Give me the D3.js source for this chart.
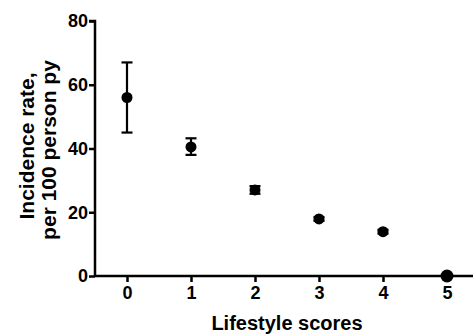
<!DOCTYPE html>
<html>
<head>
<meta charset="utf-8">
<script src="https://cdn.jsdelivr.net/npm/d3@7"></script>
<style>
  body { margin: 0; background: #fff; }
  text { font-family: Arial, "Liberation Sans", sans-serif; font-weight: bold; fill: #000; }
</style>
</head>
<body>
<div class="graphHolder"></div>
<script>
let scores = [0, 1, 2, 3, 4, 5],
  rates = [56, 40.5, 27, 17.9, 13.9, 0],
  lower = [45, 38, 25.8, 17.3, 13.3, 0],
  upper = [67, 43.2, 28.2, 18.5, 14.5, 0],
  yTicks = [0, 20, 40, 60, 80];

let w = 473,
  h = 334,
  padLeft = 95,
  padTop = 21,
  axisY = 276;

let svg = d3.select(".graphHolder")
  .append("svg")
  .attr("width", w)
  .attr("height", h);

let xScale = d3.scaleLinear()
  .domain([-0.5, 5.5])
  .range([padLeft, padLeft + 6 * 64]);

let yScale = d3.scaleLinear()
  .domain([0, 80])
  .range([axisY, padTop]);

// axes
let xAxis = d3.axisBottom(xScale)
  .tickValues(scores)
  .tickSize(6)
  .tickPadding(4)
  .tickFormat(d3.format("d"));

let xg = svg.append("g")
  .attr("transform", "translate(0," + axisY + ")")
  .call(xAxis);

let yAxis = d3.axisLeft(yScale)
  .tickValues(yTicks)
  .tickSize(6)
  .tickPadding(1);

let yg = svg.append("g")
  .attr("transform", "translate(" + padLeft + ",0)")
  .call(yAxis);

[xg, yg].forEach(g => {
  g.select(".domain").attr("stroke", "#000").attr("stroke-width", 2.5);
  g.selectAll(".tick line").attr("stroke", "#000").attr("stroke-width", 2.5);
  g.selectAll(".tick text")
    .style("font-family", "Arial, 'Liberation Sans', sans-serif")
    .style("font-weight", "bold")
    .style("font-size", "18px")
    .attr("fill", "#000");
});
xg.select(".domain").attr("d", "M" + padLeft + ",0H" + w);
yg.select(".domain").attr("d", "M-6," + padTop + "H0V" + axisY);

// error bars
let bars = svg.append("g")
  .selectAll("g")
  .data(scores)
  .enter()
  .append("g")
  .attr("stroke", "#000")
  .attr("stroke-width", 2.2);

bars.append("line")
  .attr("x1", d => xScale(d))
  .attr("x2", d => xScale(d))
  .attr("y1", (d, i) => yScale(upper[i]))
  .attr("y2", (d, i) => yScale(lower[i]));

bars.filter((d, i) => upper[i] > lower[i])
  .selectAll(".cap")
  .data(d => [[d, upper[d]], [d, lower[d]]])
  .enter()
  .append("line")
  .attr("class", "cap")
  .attr("x1", d => xScale(d[0]) - 5.5)
  .attr("x2", d => xScale(d[0]) + 5.5)
  .attr("y1", d => yScale(d[1]))
  .attr("y2", d => yScale(d[1]));

// points
svg.selectAll(".pt")
  .data(scores)
  .enter()
  .append("circle")
  .attr("class", "pt")
  .attr("cx", d => xScale(d))
  .attr("cy", (d, i) => yScale(rates[i]))
  .attr("r", (d, i) => i == 5 ? 6.5 : 5.5)
  .attr("fill", "#000");

// labels
svg.append("text")
  .attr("transform", "rotate(-90)")
  .attr("x", -146)
  .attr("y", 34)
  .attr("text-anchor", "middle")
  .style("font-size", "21px")
  .text("Incidence rate,");

svg.append("text")
  .attr("transform", "rotate(-90)")
  .attr("x", -150)
  .attr("y", 56)
  .attr("text-anchor", "middle")
  .style("font-size", "21px")
  .text("per 100 person py");

svg.append("text")
  .attr("x", 287)
  .attr("y", 330)
  .attr("text-anchor", "middle")
  .style("font-size", "20px")
  .text("Lifestyle scores");
</script>
</body>
</html>
